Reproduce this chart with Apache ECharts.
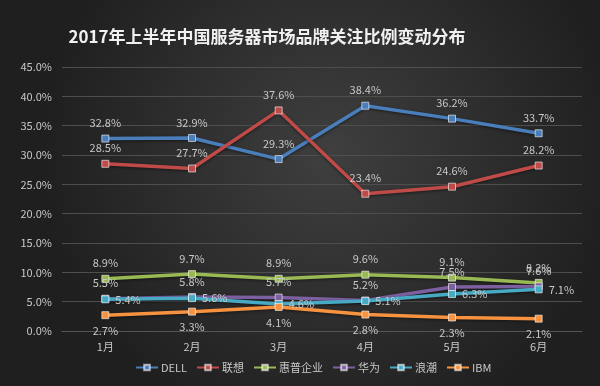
<!DOCTYPE html>
<html><head><meta charset="utf-8">
<script src="https://cdn.jsdelivr.net/npm/echarts@6/dist/echarts.min.js"></script>
<style>html,body{margin:0;padding:0;background:#2a2a2a}#c{width:600px;height:386px}</style>
</head><body><div id="c"></div>
<script>
const months = ['1月','2月','3月','4月','5月','6月'];
const dell = [32.8, 32.9, 29.3, 38.4, 36.2, 33.7];
const lenovo = [28.5, 27.7, 37.6, 23.4, 24.6, 28.2];
const hpe = [8.9, 9.7, 8.9, 9.6, 9.1, 8.2];
const huawei = [5.5, 5.8, 5.7, 5.2, 7.5, 7.6];
const inspur = [5.4, 5.6, 4.6, 5.1, 6.3, 7.1];
const ibm = [2.7, 3.3, 4.1, 2.8, 2.3, 2.1];

const font = '"Noto Sans CJK SC", "Noto Sans", sans-serif';
function mk(name, data, color, pos) {
  return {
    name, type: 'line', data,
    symbol: 'rect', symbolSize: 7,
    lineStyle: {width: 3.5, color, shadowColor: 'rgba(0,0,0,0.5)', shadowBlur: 3, shadowOffsetY: 1},
    itemStyle: {color, borderColor: 'rgba(255,255,255,0.6)', borderWidth: 1},
    label: {show: true, position: pos, distance: 6, color: '#c8c8c8', fontSize: 11, fontFamily: font,
      formatter: p => p.value.toFixed(1) + '%'}
  };
}
const chart = echarts.init(document.getElementById('c'));
chart.setOption({
  backgroundColor: {type: 'radial', x: 0.55, y: 0.4, r: 0.75,
    colorStops: [{offset: 0, color: '#3f3f3f'}, {offset: 1, color: '#1f1f1f'}]},
  animation: false,
  title: {text: '2017年上半年中国服务器市场品牌关注比例变动分布', left: 262, top: 23, textAlign: 'center',
    textStyle: {color: '#f0f0f0', fontSize: 17, fontWeight: 'bold', fontFamily: font}},
  legend: {bottom: 8, left: 130, itemWidth: 22, itemHeight: 7, itemGap: 9,
    textStyle: {color: '#c8c8c8', fontSize: 11, fontFamily: font, padding: [0, 0, 0, -2]},
    data: ['DELL','联想','惠普企业','华为','浪潮','IBM']},
  grid: {left: 62, right: 18, top: 67, bottom: 55, containLabel: false},
  xAxis: {type: 'category', data: months, boundaryGap: true,
    axisLine: {show: true, lineStyle: {color: '#555'}}, axisTick: {show: false},
    axisLabel: {color: '#c8c8c8', fontSize: 11, fontFamily: font, margin: 10}},
  yAxis: {type: 'value', min: 0, max: 45, interval: 5,
    axisLine: {show: false}, axisTick: {show: false},
    splitLine: {lineStyle: {color: '#4e4e4e', width: 1}},
    axisLabel: {color: '#c8c8c8', fontSize: 11, fontFamily: font, margin: 10,
      formatter: v => v.toFixed(1) + '%'}},
  series: [
    mk('DELL', dell, '#4a7ebb', 'top'),
    mk('联想', lenovo, '#be4b48', 'top'),
    mk('惠普企业', hpe, '#98b954', 'top'),
    mk('华为', huawei, '#7d60a0', 'top'),
    mk('浪潮', inspur, '#46aac5', 'right'),
    mk('IBM', ibm, '#f69240', 'bottom')
  ]
});
</script></body></html>
